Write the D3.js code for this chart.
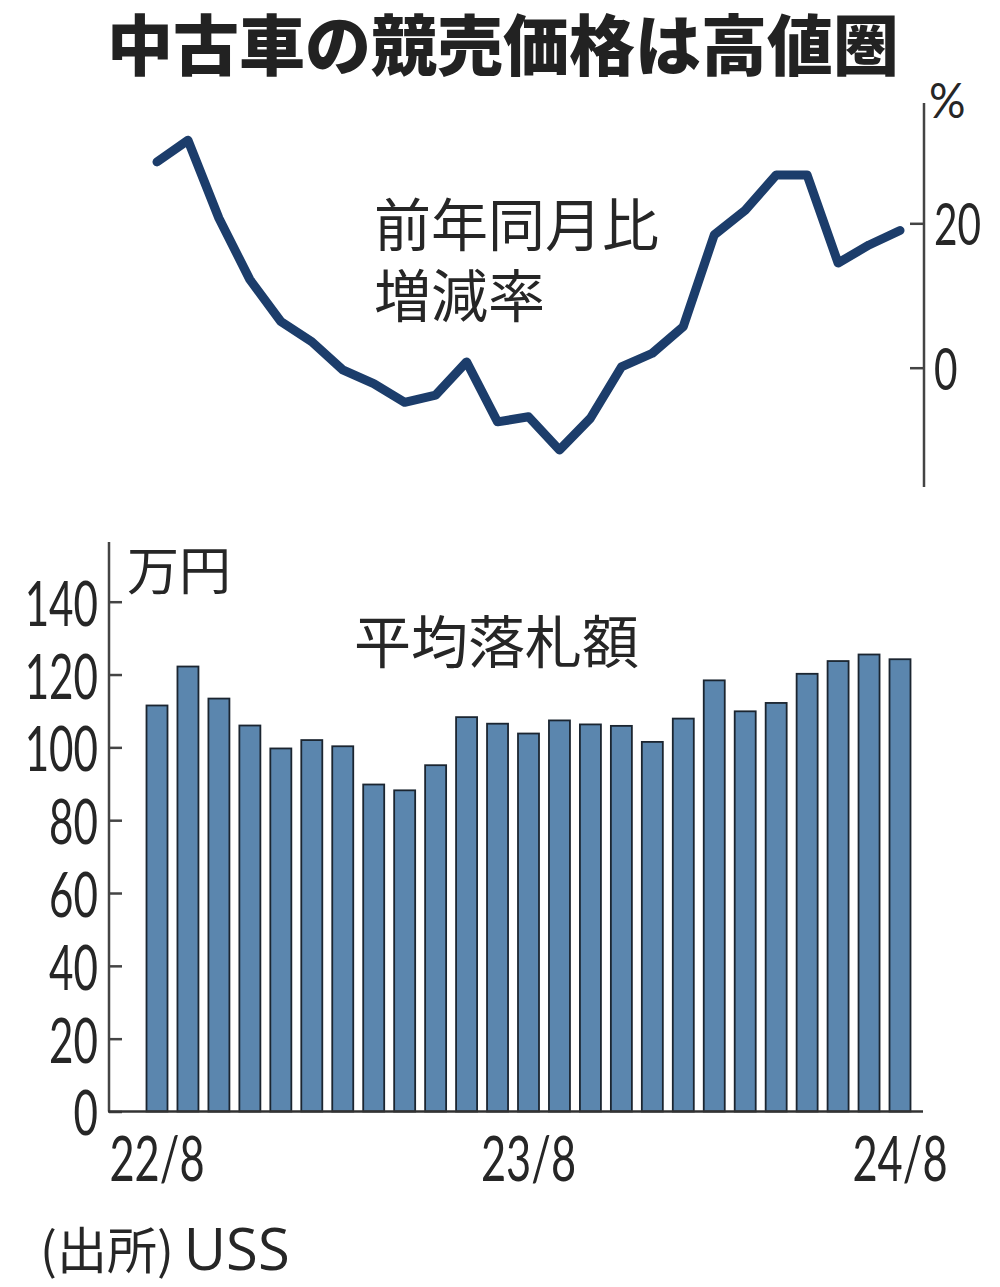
<!DOCTYPE html>
<html><head><meta charset="utf-8">
<script src="https://cdn.jsdelivr.net/npm/d3@7"></script>
<style>
body{margin:0;background:#fff;}
svg{display:block;}
.cjk{font-family:"Noto Sans CJK JP","Noto Sans",sans-serif;}
.num{font-family:"Lato","Noto Sans",sans-serif;font-weight:400;}
</style></head><body>
<svg id="chart" width="1000" height="1287"></svg>
<script>
const months = ["22/8","22/9","22/10","22/11","22/12","23/1","23/2","23/3","23/4","23/5","23/6","23/7","23/8","23/9","23/10","23/11","23/12","24/1","24/2","24/3","24/4","24/5","24/6","24/7","24/8"];
const yoyRate = [28.5,31.5,20.7,12.2,6.4,3.6,-0.3,-2.2,-4.8,-3.8,0.8,-7.5,-6.8,-11.4,-7.0,0.1,2.0,5.7,18.4,21.8,26.7,26.7,14.5,17.0,19.0];
const avgPrice = [111.5,122.2,113.4,106.0,99.7,102.0,100.3,89.8,88.2,95.1,108.3,106.5,103.8,107.4,106.3,105.9,101.5,107.9,118.4,109.9,112.2,120.2,123.7,125.5,124.2];
const xTickLabels = ["22/8","23/8","24/8"];
const lineTicks = [0,20];
const barTicks = [0,20,40,60,80,100,120,140];

const svg = d3.select("#chart");
const ink = "#262626";

// Title
svg.append("text").attr("class","cjk").attr("x",503).attr("y",41)
  .attr("text-anchor","middle").attr("dominant-baseline","central")
  .attr("font-size",66).attr("font-weight",900).attr("fill","#222")
  .text("中古車の競売価格は高値圏");

// shared x
const x = d3.scalePoint().domain(months).range([157,900]);

// condensed number label helper
function numLabel(parent, tx, ty, txt, size, anchor, sx){
  parent.append("g").attr("transform",`translate(${tx},${ty}) scale(${sx},1)`)
    .append("text").attr("class","num").attr("x",0).attr("y",0)
    .attr("text-anchor",anchor).attr("dominant-baseline","central")
    .attr("font-size",size).attr("fill",ink).text(txt);
}

// ---- Line chart ----
const yL = d3.scaleLinear().domain([0,20]).range([367.7,223.3]);
const rightAxisX = 924;
svg.append("line").attr("x1",rightAxisX).attr("x2",rightAxisX).attr("y1",103).attr("y2",487)
  .attr("stroke","#444").attr("stroke-width",2.5);
const gR = svg.append("g").attr("transform",`translate(${rightAxisX},0)`)
  .call(d3.axisLeft(yL).tickValues(lineTicks).tickSize(14).tickFormat(""));
gR.select(".domain").remove();
gR.selectAll(".tick line").attr("stroke","#444").attr("stroke-width",2.5);
lineTicks.forEach(t => numLabel(svg, 934, yL(t), t, 58, "start", 0.7));
numLabel(svg, 929, 100, "%", 48, "start", 0.95);

svg.append("path").datum(yoyRate)
  .attr("d", d3.line().x((d,i)=>x(months[i])).y(d=>yL(d)))
  .attr("fill","none").attr("stroke","#1c3d6b").attr("stroke-width",9)
  .attr("stroke-linejoin","round").attr("stroke-linecap","round");

const lineLab = svg.append("text").attr("class","cjk").attr("font-size",57).attr("fill",ink);
lineLab.append("tspan").attr("x",374).attr("y",246).text("前年同月比");
lineLab.append("tspan").attr("x",374).attr("y",317).text("増減率");

// ---- Bar chart ----
const yB = d3.scaleLinear().domain([0,140]).range([1111.5,601.7]);
const leftAxisX = 109;
svg.append("line").attr("x1",leftAxisX).attr("x2",leftAxisX).attr("y1",542).attr("y2",1111.5)
  .attr("stroke","#444").attr("stroke-width",2.5);
const gL = svg.append("g").attr("transform",`translate(${leftAxisX},0)`)
  .call(d3.axisRight(yB).tickValues(barTicks).tickSize(13).tickFormat(""));
gL.select(".domain").remove();
gL.selectAll(".tick line").attr("stroke","#444").attr("stroke-width",2.5);
barTicks.forEach(t => numLabel(svg, 98, yB(t), t, 62, "end", 0.68));

const bw = 21;
svg.selectAll(".bar").data(avgPrice).enter().append("rect")
  .attr("x",(d,i)=>x(months[i])-bw/2).attr("width",bw)
  .attr("y",d=>yB(d)).attr("height",d=>yB(0)-yB(d))
  .attr("fill","#5b86ae").attr("stroke","#1b2530").attr("stroke-width",1.8);

svg.append("line").attr("x1",leftAxisX-1).attr("x2",923).attr("y1",1111.5).attr("y2",1111.5)
  .attr("stroke","#333").attr("stroke-width",2.5);

xTickLabels.forEach(t => numLabel(svg, x(t), 1157, t, 62, "middle", 0.7));

svg.append("text").attr("class","cjk").attr("x",127).attr("y",567)
  .attr("dominant-baseline","central").attr("font-size",52).attr("fill",ink).text("万円");
svg.append("text").attr("class","cjk").attr("x",354).attr("y",638)
  .attr("dominant-baseline","central").attr("font-size",57).attr("fill",ink).text("平均落札額");

const src = svg.append("text").attr("class","cjk").attr("x",40).attr("y",1247)
  .attr("dominant-baseline","central").attr("font-size",50).attr("fill",ink);
src.append("tspan").text("(出所)");
src.append("tspan").attr("dx",10).attr("font-family","'Open Sans','Noto Sans',sans-serif").attr("font-size",58).text("USS");
</script>
</body></html>
